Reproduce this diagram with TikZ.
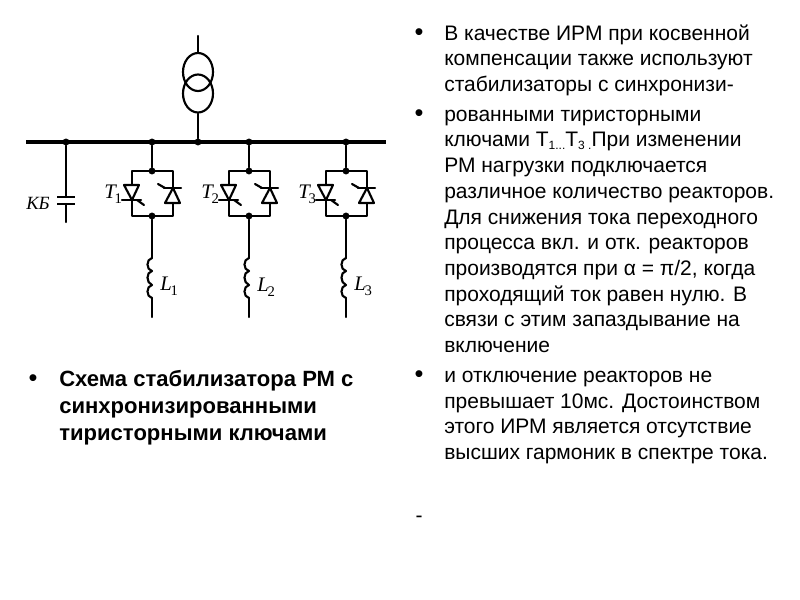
\documentclass[tikz,border=0pt]{standalone}
\usepackage{fontspec}
\usetikzlibrary{shapes.geometric}
\setmainfont{Liberation Sans}
\newfontfamily\serifit{Liberation Serif}
\newcommand{\bodyfs}{\fontsize{15.75pt}{15.75pt}\selectfont}
\newcommand{\boldfs}{\fontsize{16.55pt}{16.55pt}\selectfont\bfseries}
\newcommand{\subfs}[1]{\raisebox{-2pt}{\fontsize{9pt}{9pt}\selectfont #1}}
\newcommand{\symsub}[2]{{\itshape #1}\kern-0.8pt\raisebox{-4pt}{\fontsize{11pt}{11pt}\selectfont\upshape #2}}
\tikzset{
 x=0.75pt,y=-0.75pt,
 wire/.style={line width=1.6pt,line cap=round,line join=round},
 bus/.style={line width=3.6pt},
 dot/.style={circle,fill=black,inner sep=0pt,minimum size=5.2pt},
 txt/.style={anchor=base west,inner sep=0pt,font=\bodyfs},
 btxt/.style={anchor=base west,inner sep=0pt,font=\boldfs},
 sym/.style={anchor=base west,inner sep=0pt,font=\serifit\fontsize{15.5pt}{15.5pt}\selectfont},
 bul/.style={anchor=base,inner sep=0pt,font=\fontsize{19pt}{19pt}\selectfont},
 coil/.style={draw,ellipse,line width=1.6pt,inner sep=0pt,minimum width=22.5pt,minimum height=28.5pt},
}
\begin{document}
\begin{tikzpicture}
\useasboundingbox (0,0) rectangle (800,600);
\fill[white] (0,0) rectangle (800,600);
% bus and transformer
\coordinate (busL) at (26,142);
\coordinate (busR) at (386,142);
\draw[bus] (busL) -- (busR);
\node[coil] (tr1) at (198,72) {};
\node[coil] (tr2) at (198,93.5) {};
\coordinate (feed) at (198,36);
\node[dot] (d0) at (198,142) {};
\draw[wire] (feed) -- (tr1.north);
\draw[wire] (tr2.south) -- (d0);
% capacitor bank
\node[dot] (dk) at (66,142) {};
\coordinate (c1) at (66,197);
\coordinate (c2) at (66,204);
\coordinate (cend) at (66,222);
\draw[wire] (dk) -- (c1);
\draw[wire] (c2) -- (cend);
\draw[line width=2.1pt] (57,197) -- (75,197);
\draw[line width=2.1pt] (57,204) -- (75,204);
\node[sym,anchor=center] (kb) at (38,203) {\fontsize{14pt}{14pt}\selectfont\itshape КБ};
% thyristor branches
\foreach \i/\cx/\tx/\ty/\lx/\ly in {1/152/104/198/160/290,2/249/201/198/257/291,3/346/298/198/354/290}{
 \begin{scope}[shift={(\cx,0)}]
  \node[dot] (top\i) at (0,142) {};
  \node[dot] (a\i) at (0,171) {};
  \node[dot] (b\i) at (0,216) {};
  \coordinate (e\i) at (0,317);
  \coordinate (ls\i) at (0,258);
  \coordinate (le\i) at (0,298);
  \draw[wire] (top\i) -- (a\i);
  \draw[wire] (-20,171) rectangle (21,216);
  \draw[wire] (b\i) -- (ls\i);
  \draw[wire] (ls\i) .. controls (-6,259) and (-6,270) .. (0,271)
     .. controls (-6,272) and (-6,283) .. (0,285)
     .. controls (-6,286) and (-6,297) .. (le\i);
  \draw[wire] (le\i) -- (e\i);
  % left thyristor
  \draw[wire,fill=white] (-28,185) -- (-13,185) -- (-20,200) -- cycle;
  \draw[wire] (-30,200) -- (-11,200);
  \draw[wire] (-15,200) -- (-8,205);
  % right thyristor
  \draw[wire,fill=white] (13,203) -- (28,203) -- (21,188) -- cycle;
  \draw[wire] (12,188) -- (29,188);
  \draw[wire] (6,184) -- (13,188);
 \end{scope}
 \node[sym] (t\i) at (\tx,\ty) {\symsub{T}{\i}};
 \node[sym] (l\i) at (\lx,\ly) {\symsub{L}{\i}};
}
% left caption
\node[bul] (bl) at (33,386) {•};
\node[btxt] (cap1) at (59,386) {Схема стабилизатора РМ с};
\node[btxt] (cap2) at (59,413) {синхронизированными};
\node[btxt] (cap3) at (59,440) {тиристорными ключами};
% right text
\node[bul] (b1) at (419,40) {•};
\node[txt] (r1) at (444,40) {В качестве ИРМ при косвенной};
\node[txt] (r2) at (444,65.5) {компенсации также используют};
\node[txt] (r3) at (444,91) {стабилизаторы с синхронизи-};
\node[bul] (b2) at (419,121) {•};
\node[txt] (r4) at (444,121) {рованными тиристорными};
\node[txt] (r5) at (444,146.5) {ключами Т\subfs{1...}Т\subfs{3 .}При изменении};
\node[txt] (r6) at (444,172.5) {РМ нагрузки подключается};
\node[txt] (r7) at (444,198) {различное количество реакторов.};
\node[txt] (r8) at (444,224) {Для снижения тока переходного};
\node[txt] (r9) at (444,249.5) {процесса вкл. и отк. реакторов};
\node[txt] (r10) at (444,275) {производятся при α = π/2, когда};
\node[txt] (r11) at (444,301) {проходящий ток равен нулю. В};
\node[txt] (r12) at (444,326.5) {связи с этим запаздывание на};
\node[txt] (r13) at (444,352) {включение};
\node[bul] (b3) at (419,382) {•};
\node[txt] (r14) at (444,382) {и отключение реакторов не};
\node[txt] (r15) at (444,408) {превышает 10мс. Достоинством};
\node[txt] (r16) at (444,433.5) {этого ИРМ является отсутствие};
\node[txt] (r17) at (444,459) {высших гармоник в спектре тока.};
\node[anchor=base,inner sep=0pt,font=\bodyfs] (dash) at (419,522) {-};
\end{tikzpicture}
\end{document}
